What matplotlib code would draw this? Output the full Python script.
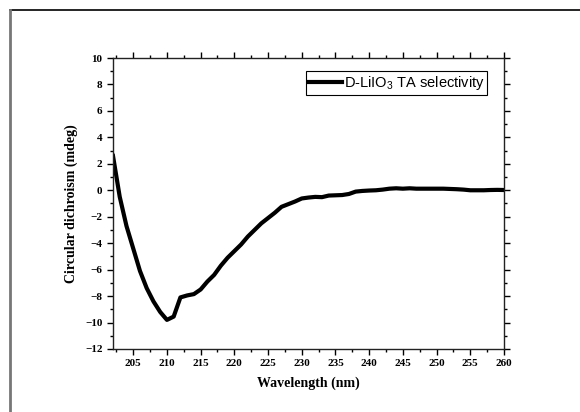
import matplotlib.pyplot as plt
from matplotlib.lines import Line2D
from matplotlib.ticker import MultipleLocator

# CD spectrum, D-LiIO3 TA selectivity
wavelength = [202, 203, 204, 205, 206, 207, 208, 209, 210, 211, 212, 213, 214, 215,
              216, 217, 218, 219, 220, 221, 222, 223, 224, 225, 226, 227, 228, 229,
              230, 231, 232, 233, 234, 235, 236, 237, 238, 239, 240, 241, 242, 243,
              244, 245, 246, 247, 248, 249, 250, 251, 252, 253, 254, 255, 256, 257,
              258, 259, 260]
cd_mdeg = [2.6, -0.5, -2.7, -4.4, -6.1, -7.4, -8.4, -9.2, -9.8, -9.55, -8.1, -7.95,
           -7.85, -7.5, -6.9, -6.4, -5.7, -5.1, -4.6, -4.1, -3.5, -3.0, -2.5, -2.1,
           -1.7, -1.25, -1.05, -0.85, -0.62, -0.55, -0.5, -0.52, -0.4, -0.38, -0.36,
           -0.28, -0.1, -0.05, -0.02, 0.0, 0.05, 0.12, 0.15, 0.12, 0.15, 0.12, 0.12,
           0.12, 0.12, 0.12, 0.1, 0.08, 0.05, 0.0, 0.0, 0.0, 0.02, 0.03, 0.02]

serif = ['Liberation Serif', 'DejaVu Serif']
sans = ['Liberation Sans', 'DejaVu Sans']

fig = plt.figure(figsize=(5.8, 4.12), dpi=100)
ax = fig.add_axes([113 / 580, 1 - 349 / 412, 391 / 580, 291 / 412])

ax.plot(wavelength, cd_mdeg, color='black', linewidth=3,
        label=r'D-LiIO$_{\mathregular{3}}$ TA selectivity')

ax.set_xlim(202, 260)
ax.set_ylim(-12, 10)
ax.xaxis.set_major_locator(MultipleLocator(5))
ax.xaxis.set_minor_locator(MultipleLocator(2.5))
ax.yaxis.set_major_locator(MultipleLocator(2))
ax.yaxis.set_minor_locator(MultipleLocator(1))
ax.tick_params(which='both', direction='out', top=True, right=True, width=1)
ax.tick_params(which='major', length=4)
ax.tick_params(which='minor', length=2.5)
for lbl in ax.get_xticklabels() + ax.get_yticklabels():
    lbl.set_fontfamily(serif)
    lbl.set_fontweight('bold')
    lbl.set_fontsize(8)
for sp in ax.spines.values():
    sp.set_linewidth(1)
    sp.set_color('#222222')

ax.set_xlabel('Wavelength (nm)', fontfamily=serif, fontweight='bold', fontsize=10, labelpad=6)
ax.set_ylabel('Circular dichroism (mdeg)', fontfamily=serif, fontweight='bold', fontsize=10, labelpad=5)

leg = ax.legend(loc='upper right', bbox_to_anchor=(0.957, 0.955), borderaxespad=0,
                fancybox=False, edgecolor='black', framealpha=1, handlelength=2.3,
                handletextpad=0.1, borderpad=0.2, prop={'family': sans, 'size': 10.5})
leg.get_frame().set_linewidth(0.8)

# page frame
fig.add_artist(Line2D([10 / 580, 1], [1 - 10 / 412] * 2, color='black', linewidth=1.2))
fig.add_artist(Line2D([10 / 580] * 2, [0, 1 - 10 / 412], color='#777777', linewidth=2))

fig.savefig('out.png', dpi=100)
